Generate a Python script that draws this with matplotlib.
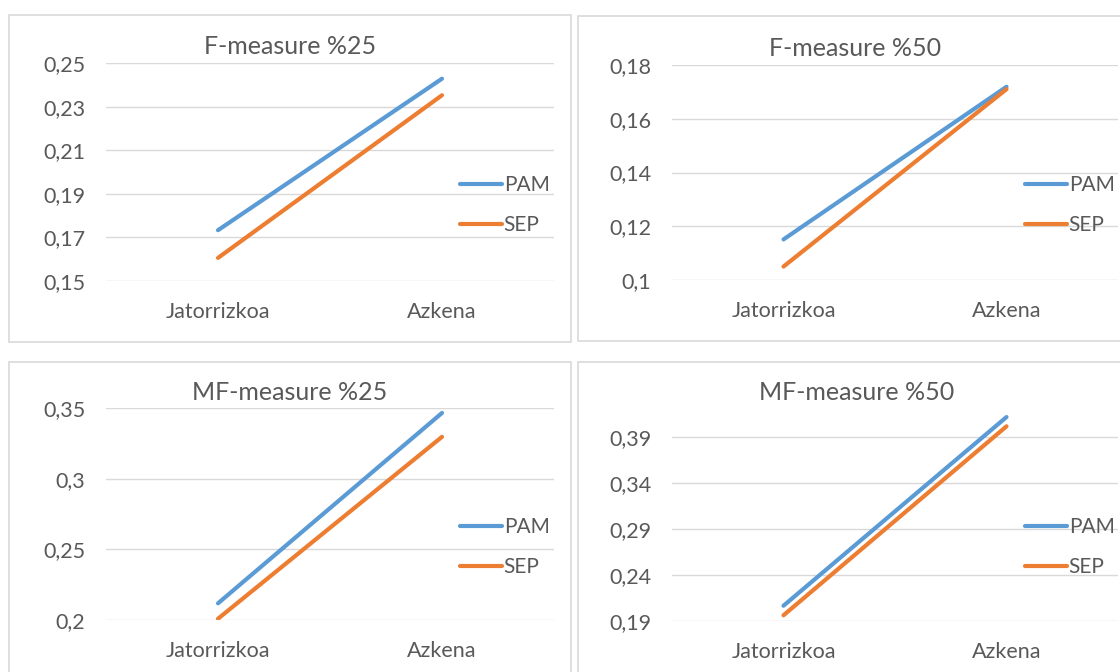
import matplotlib
matplotlib.use("Agg")
import matplotlib.pyplot as plt
from matplotlib.patches import Rectangle

plt.rcParams['font.family'] = ['Lato', 'DejaVu Sans']

# ---- data ----
categories = ["Jatorrizkoa", "Azkena"]
series_names = ["PAM", "SEP"]

titles = ["F-measure %25", "F-measure %50", "MF-measure %25", "MF-measure %50"]

pam_f25 = [0.1733, 0.2428]
sep_f25 = [0.1606, 0.2352]
pam_f50 = [0.1151, 0.1719]
sep_f50 = [0.1050, 0.1710]
pam_mf25 = [0.2118, 0.3465]
sep_mf25 = [0.2009, 0.3296]
pam_mf50 = [0.2066, 0.4117]
sep_mf50 = [0.1962, 0.4016]

yticks_f25 = [0.15, 0.17, 0.19, 0.21, 0.23, 0.25]
yticks_f50 = [0.10, 0.12, 0.14, 0.16, 0.18]
yticks_mf25 = [0.20, 0.25, 0.30, 0.35]
yticks_mf50 = [0.19, 0.24, 0.29, 0.34, 0.39]

ylims = [(0.15, 0.25), (0.10, 0.18), (0.20, 0.35), (0.19, 0.42)]

# ---- styling / layout ----
W, H = 1120, 672
fig = plt.figure(figsize=(W / 100, H / 100), dpi=100)
fig.patch.set_facecolor('white')

BLUE = '#5B9BD5'
ORANGE = '#ED7D31'
GRID = '#D9D9D9'
TEXT = '#595959'


def frect(x0, y0, x1, y1):
    return [x0 / W, 1 - y1 / H, (x1 - x0) / W, (y1 - y0) / H]


# panel borders (pixel coords: x0, y0, x1, y1)
panels = [(9, 15, 571, 342), (578, 16, 1140, 341), (9, 362, 571, 700), (578, 362, 1140, 700)]
for (x0, y0, x1, y1) in panels:
    fig.add_artist(Rectangle((x0 / W, 1 - y1 / H), (x1 - x0) / W, (y1 - y0) / H,
                             transform=fig.transFigure, facecolor='white',
                             edgecolor=GRID, lw=1.2, zorder=0))

# axes positions (pixel): x0, ytop, x1, ybottom
axes_px = [(106, 63, 554, 281), (672, 65, 1118, 280), (106, 408, 554, 620), (672, 409.4, 1118, 621)]
title_pos = [(290, 47), (855, 49), (290, 393), (857, 393)]
legend_pos = [(460, 205), (1025, 205), (460, 547), (1025, 547)]

data = [(pam_f25, sep_f25, yticks_f25), (pam_f50, sep_f50, yticks_f50),
        (pam_mf25, sep_mf25, yticks_mf25), (pam_mf50, sep_mf50, yticks_mf50)]


def fmt(v):
    return f"{v:g}".replace('.', ',')


x = list(range(len(categories)))
for i, ((pam, sep, yt), (x0, yt0, x1, yb0)) in enumerate(zip(data, axes_px)):
    ax = fig.add_axes(frect(x0, yt0, x1, yb0))
    ax.set_facecolor('none')
    ax.plot(x, pam, color=BLUE, lw=3, solid_capstyle='round', label=series_names[0], zorder=3)
    ax.plot(x, sep, color=ORANGE, lw=3, solid_capstyle='round', label=series_names[1], zorder=3)
    ax.set_xlim(-0.5, 1.5)
    ax.set_ylim(*ylims[i])
    ax.set_yticks(yt)
    ax.set_yticklabels([fmt(v) for v in yt])
    ax.set_xticks(x)
    ax.set_xticklabels(categories)
    for s in ax.spines.values():
        s.set_visible(False)
    ax.grid(axis='y', color=GRID, lw=1.0, zorder=0)
    ax.set_axisbelow(True)
    ax.tick_params(axis='y', length=0, pad=15, labelsize=15.5, labelcolor=TEXT)
    ax.tick_params(axis='x', length=0, pad=15, labelsize=15.5, labelcolor=TEXT)
    lx, ly = legend_pos[i]
    leg = ax.legend(loc='center left', bbox_to_anchor=(lx / W, 1 - ly / H),
                    bbox_transform=fig.transFigure, frameon=False, fontsize=15,
                    handlelength=2.0, handletextpad=0.1, labelspacing=0.95,
                    borderpad=0, borderaxespad=0)
    for t in leg.get_texts():
        t.set_color(TEXT)
    tx, ty = title_pos[i]
    fig.text(tx / W, 1 - ty / H, titles[i], ha='center', va='center',
             fontsize=18, color=TEXT)

fig.savefig('out.png', dpi=100)
